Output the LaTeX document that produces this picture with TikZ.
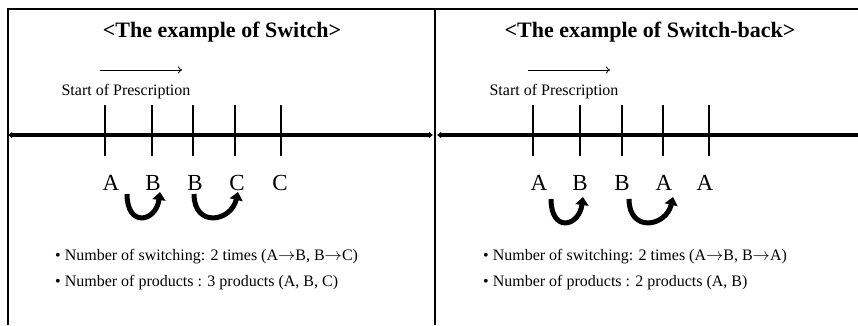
\documentclass[tikz,border=0pt]{standalone}
\usepackage{fontspec}
\setmainfont{Liberation Serif}
\usetikzlibrary{arrows.meta}

\newcommand{\goesto}{\ensuremath{\rightarrow}}

\begin{document}
\begin{tikzpicture}[x=1pt, y=1pt,
    frame/.style={line width=1.6pt, black},
    timeline/.style={line width=3.6pt},
    tick/.style={line width=1.1pt},
    hop/.style={line width=5pt, -{Triangle[length=8pt, width=13pt]}},
    title/.style={font=\fontsize{22}{24}\selectfont\bfseries},
    letter/.style={font=\fontsize{23}{26}\selectfont},
    note/.style={font=\fontsize{16}{18}\selectfont, anchor=west, inner sep=0pt}
]

    \useasboundingbox (0,0) rectangle (858,325);

    % frame
    \draw[frame] (8,0) -- (8,316) -- (858,316);
    \draw[frame] (435,0) -- (435,316);

    % timelines
    \draw[timeline, {Latex[length=4pt, width=7pt]}-{Latex[length=4pt, width=7pt]}] (8,190) -- (433,190);
    \draw[timeline, {Latex[length=4pt, width=7pt]}-] (437,190) -- (858,190);

    % ---- left: Switch ----
    \begin{scope}
        \node[title] (titleL) at (222,293) {<The example of Switch>};

        \coordinate (goL1) at (100,255);
        \coordinate (goL2) at (182,255);
        \draw[-{To[length=4pt, width=7pt]}, line width=0.8pt] (goL1) -- (goL2);
        \node[font=\fontsize{16}{18}\selectfont] (startL) at (126,233) {Start of Prescription};

        \foreach \x in {105,152,193,235,281}
            \draw[tick] (\x,220) -- (\x,169);

        \node[letter] (aL1) at (111,142) {A};
        \node[letter] (aL2) at (153,142) {B};
        \node[letter] (aL3) at (195,142) {B};
        \node[letter] (aL4) at (237,142) {C};
        \node[letter] (aL5) at (280,142) {C};

        \coordinate (hL1s) at (127,131);
        \coordinate (hL1e) at (160,133);
        \coordinate (hL2s) at (194,131);
        \coordinate (hL2e) at (238,133);
        \draw[hop] (hL1s) .. controls +(0,-34) and +(-4,-30) .. (hL1e);
        \draw[hop] (hL2s) .. controls +(0,-34) and +(-7,-30) .. (hL2e);

        \node[note] (nL1) at (55,68) {• Number of switching: 2 times (A\goesto B, B\goesto C)};
        \node[note] (nL2) at (55,42) {• Number of products : 3 products (A, B, C)};
    \end{scope}

    % ---- right: Switch-back ----
    \begin{scope}
        \node[title] (titleR) at (650,293) {<The example of Switch-back>};

        \coordinate (goR1) at (528,255);
        \coordinate (goR2) at (610,255);
        \draw[-{To[length=4pt, width=7pt]}, line width=0.8pt] (goR1) -- (goR2);
        \node[font=\fontsize{16}{18}\selectfont] (startR) at (554,233) {Start of Prescription};

        \foreach \x in {533,580,622,663,709}
            \draw[tick] (\x,220) -- (\x,169);

        \node[letter] (aR1) at (539,142) {A};
        \node[letter] (aR2) at (580,142) {B};
        \node[letter] (aR3) at (622,142) {B};
        \node[letter] (aR4) at (664,142) {A};
        \node[letter] (aR5) at (705,142) {A};

        \coordinate (hR1s) at (551,126);
        \coordinate (hR1e) at (583,128);
        \coordinate (hR2s) at (629,126);
        \coordinate (hR2e) at (673,128);
        \draw[hop] (hR1s) .. controls +(0,-34) and +(-4,-30) .. (hR1e);
        \draw[hop] (hR2s) .. controls +(0,-34) and +(-7,-30) .. (hR2e);

        \node[note] (nR1) at (483,68) {• Number of switching: 2 times (A\goesto B, B\goesto A)};
        \node[note] (nR2) at (483,42) {• Number of products : 2 products (A, B)};
    \end{scope}

\end{tikzpicture}
\end{document}
